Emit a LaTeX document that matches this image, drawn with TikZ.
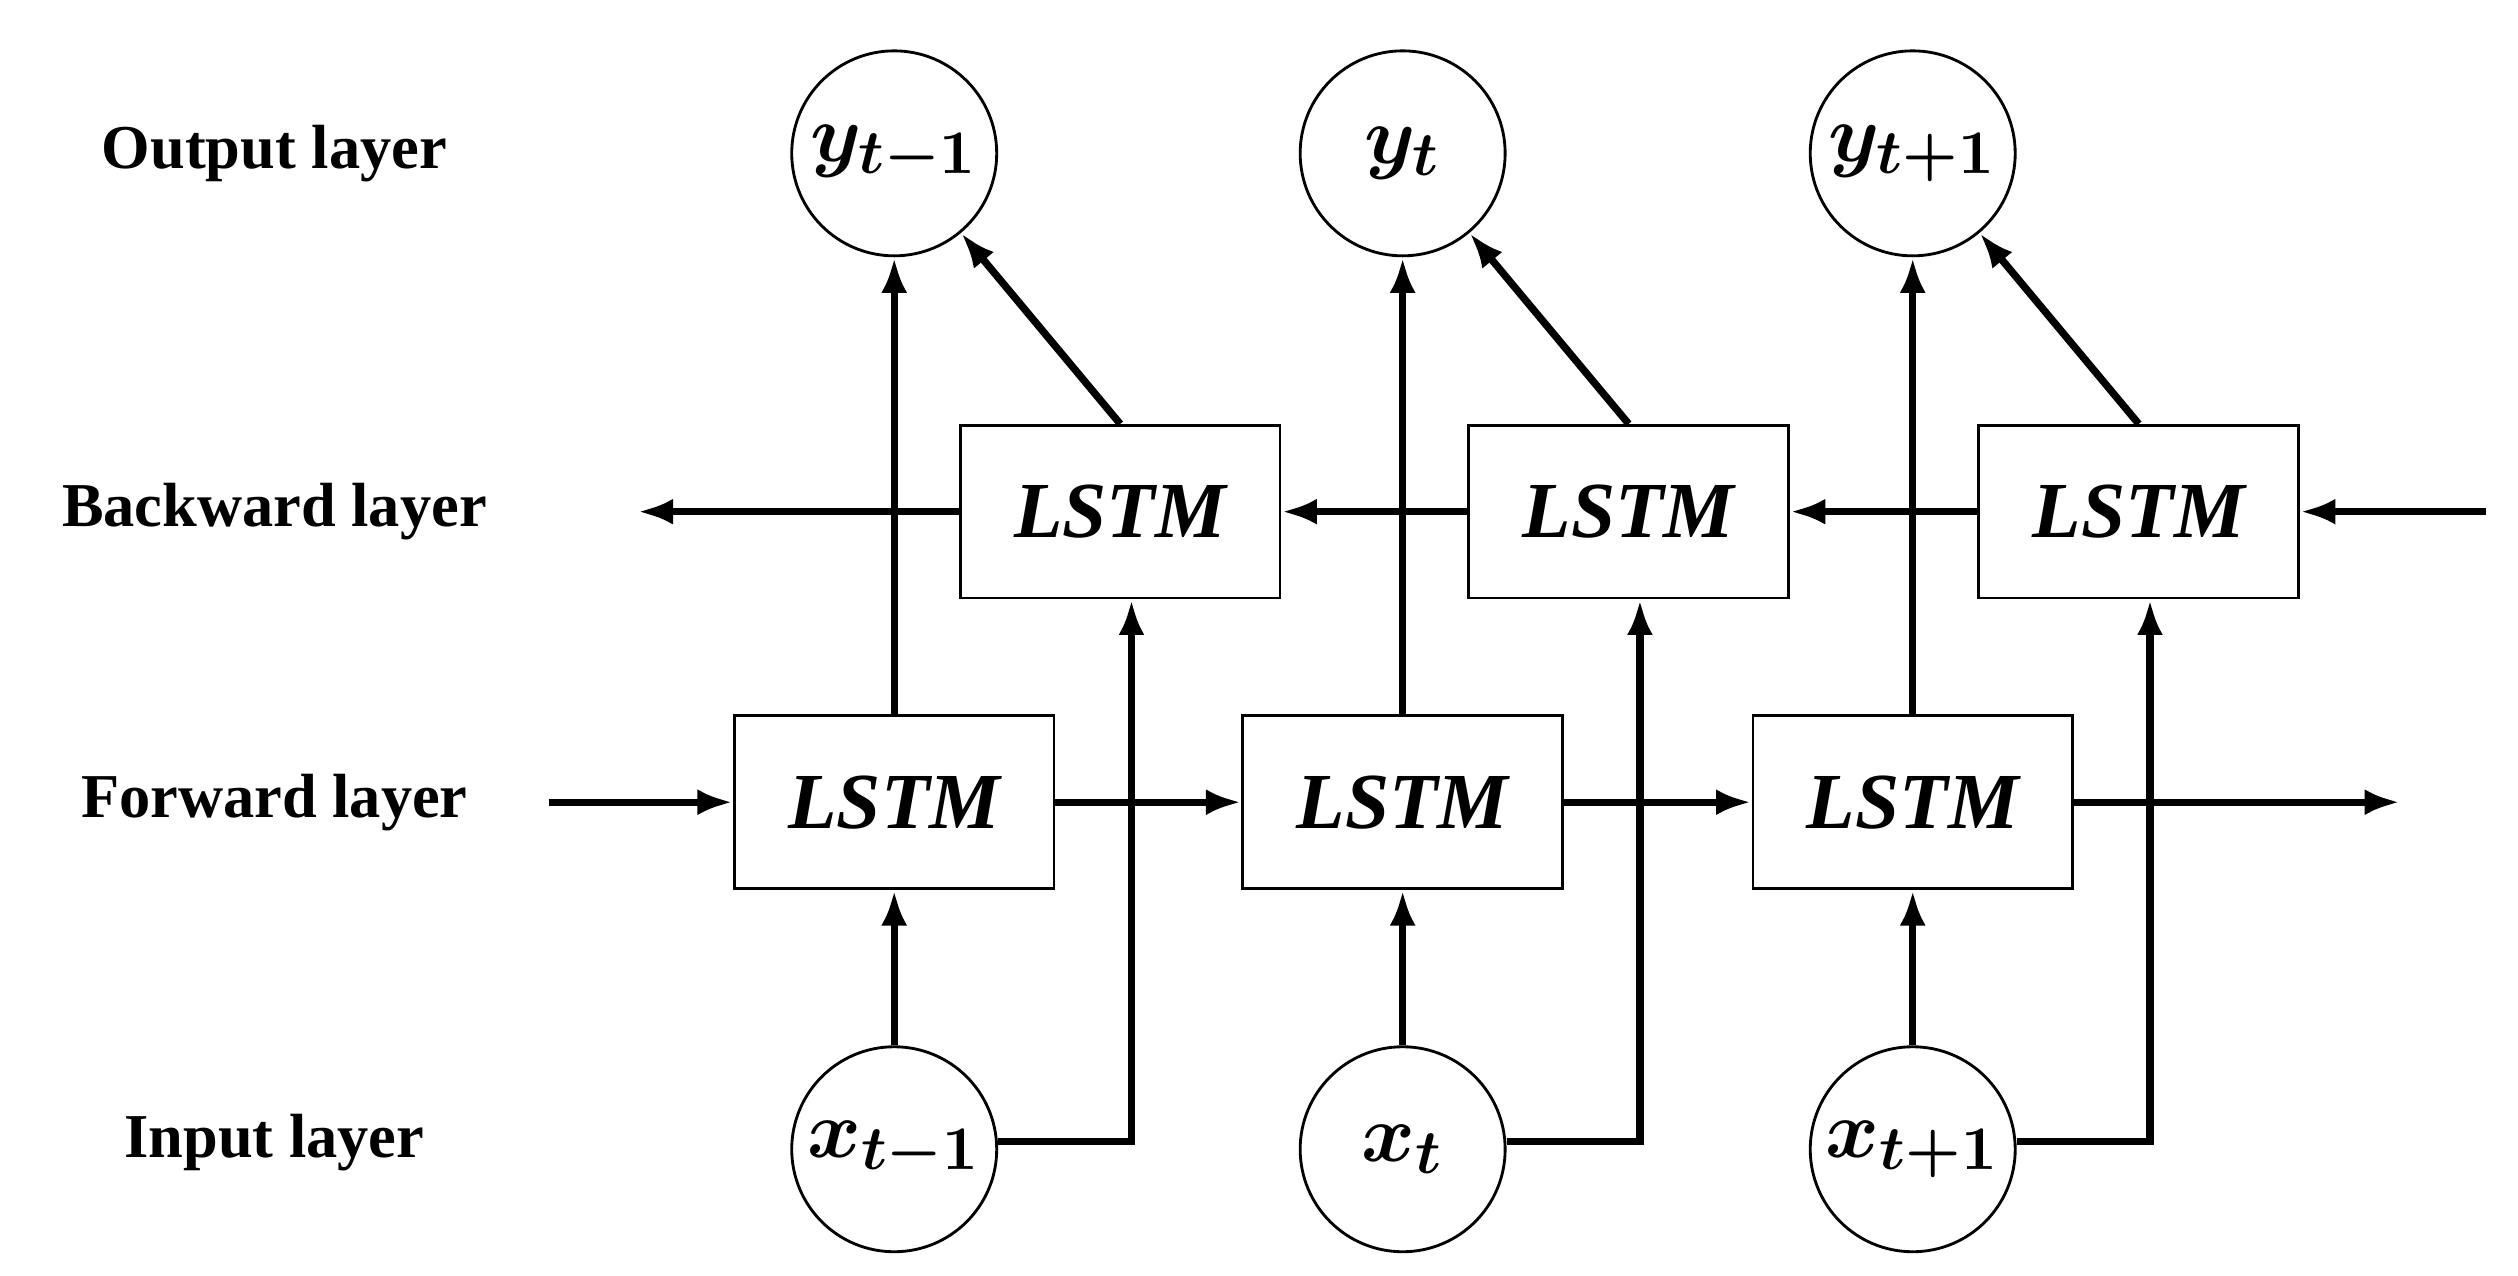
\documentclass[tikz,border=0pt]{standalone}
\usepackage{fontspec}
\setmainfont{Liberation Serif}
\usepackage{amsmath}
\usetikzlibrary{arrows.meta}
\begin{document}
\begin{tikzpicture}[x=0.1mm,y=-0.1mm,
  lbl/.style={font=\fontsize{11}{13}\selectfont\bfseries},
  box/.style={draw,line width=0.5pt,minimum width=19.8mm,minimum height=10.7mm,font=\fontsize{14}{16}\selectfont\bfseries\itshape},
  circ/.style={draw,circle,line width=0.5pt,minimum size=12.7mm,inner sep=0pt,font=\fontsize{15}{17}\selectfont},
  ar/.style={line width=1.3pt,-{Latex[length=2.2mm,width=1.6mm]}},
  ln/.style={line width=1.3pt}]
\useasboundingbox (0,0) rectangle (1560,790);
\node[lbl] (lo) at (170,95) {Output layer};
\node[lbl] (lb) at (170,317) {Backward layer};
\node[lbl] (lf) at (170,497) {Forward layer};
\node[lbl] (li) at (170,708) {Input layer};
\foreach \i/\x/\s in {1/554/t-1,2/869/t,3/1185/t+1}{
  \node[circ] (y\i) at (\x,95) {$\boldsymbol{y_{\s}}$};
  \node[circ] (x\i) at (\x,712) {$\boldsymbol{x_{\s}}$};
  \node[box] (f\i) at (\x,497) {LSTM};
  \node[box] (b\i) at (\x+140,317) {LSTM};
  \coordinate (c\i) at (\x+147,707);
}
\foreach \i in {1,2,3}{
  \draw[ar] (f\i.north) -- (y\i.south);
  \draw[ar] (b\i.north) -- (y\i.-50);
  \draw[ar] (x\i.north) -- (f\i.south);
  \draw[ar] (x\i.east |- c\i) -- (c\i) -- (c\i |- b\i.south);
}
\coordinate (fin) at (340,497); \coordinate (fout) at (1487,497);
\coordinate (bin) at (1540,317); \coordinate (bout) at (395,317);
\draw[ar] (fin) -- (f1.west);
\draw[ar] (f1.east) -- (f2.west);
\draw[ar] (f2.east) -- (f3.west);
\draw[ar] (f3.east) -- (fout);
\draw[ar] (bin) -- (b3.east);
\draw[ar] (b3.west) -- (b2.east);
\draw[ar] (b2.west) -- (b1.east);
\draw[ar] (b1.west) -- (bout);
\end{tikzpicture}
\end{document}
